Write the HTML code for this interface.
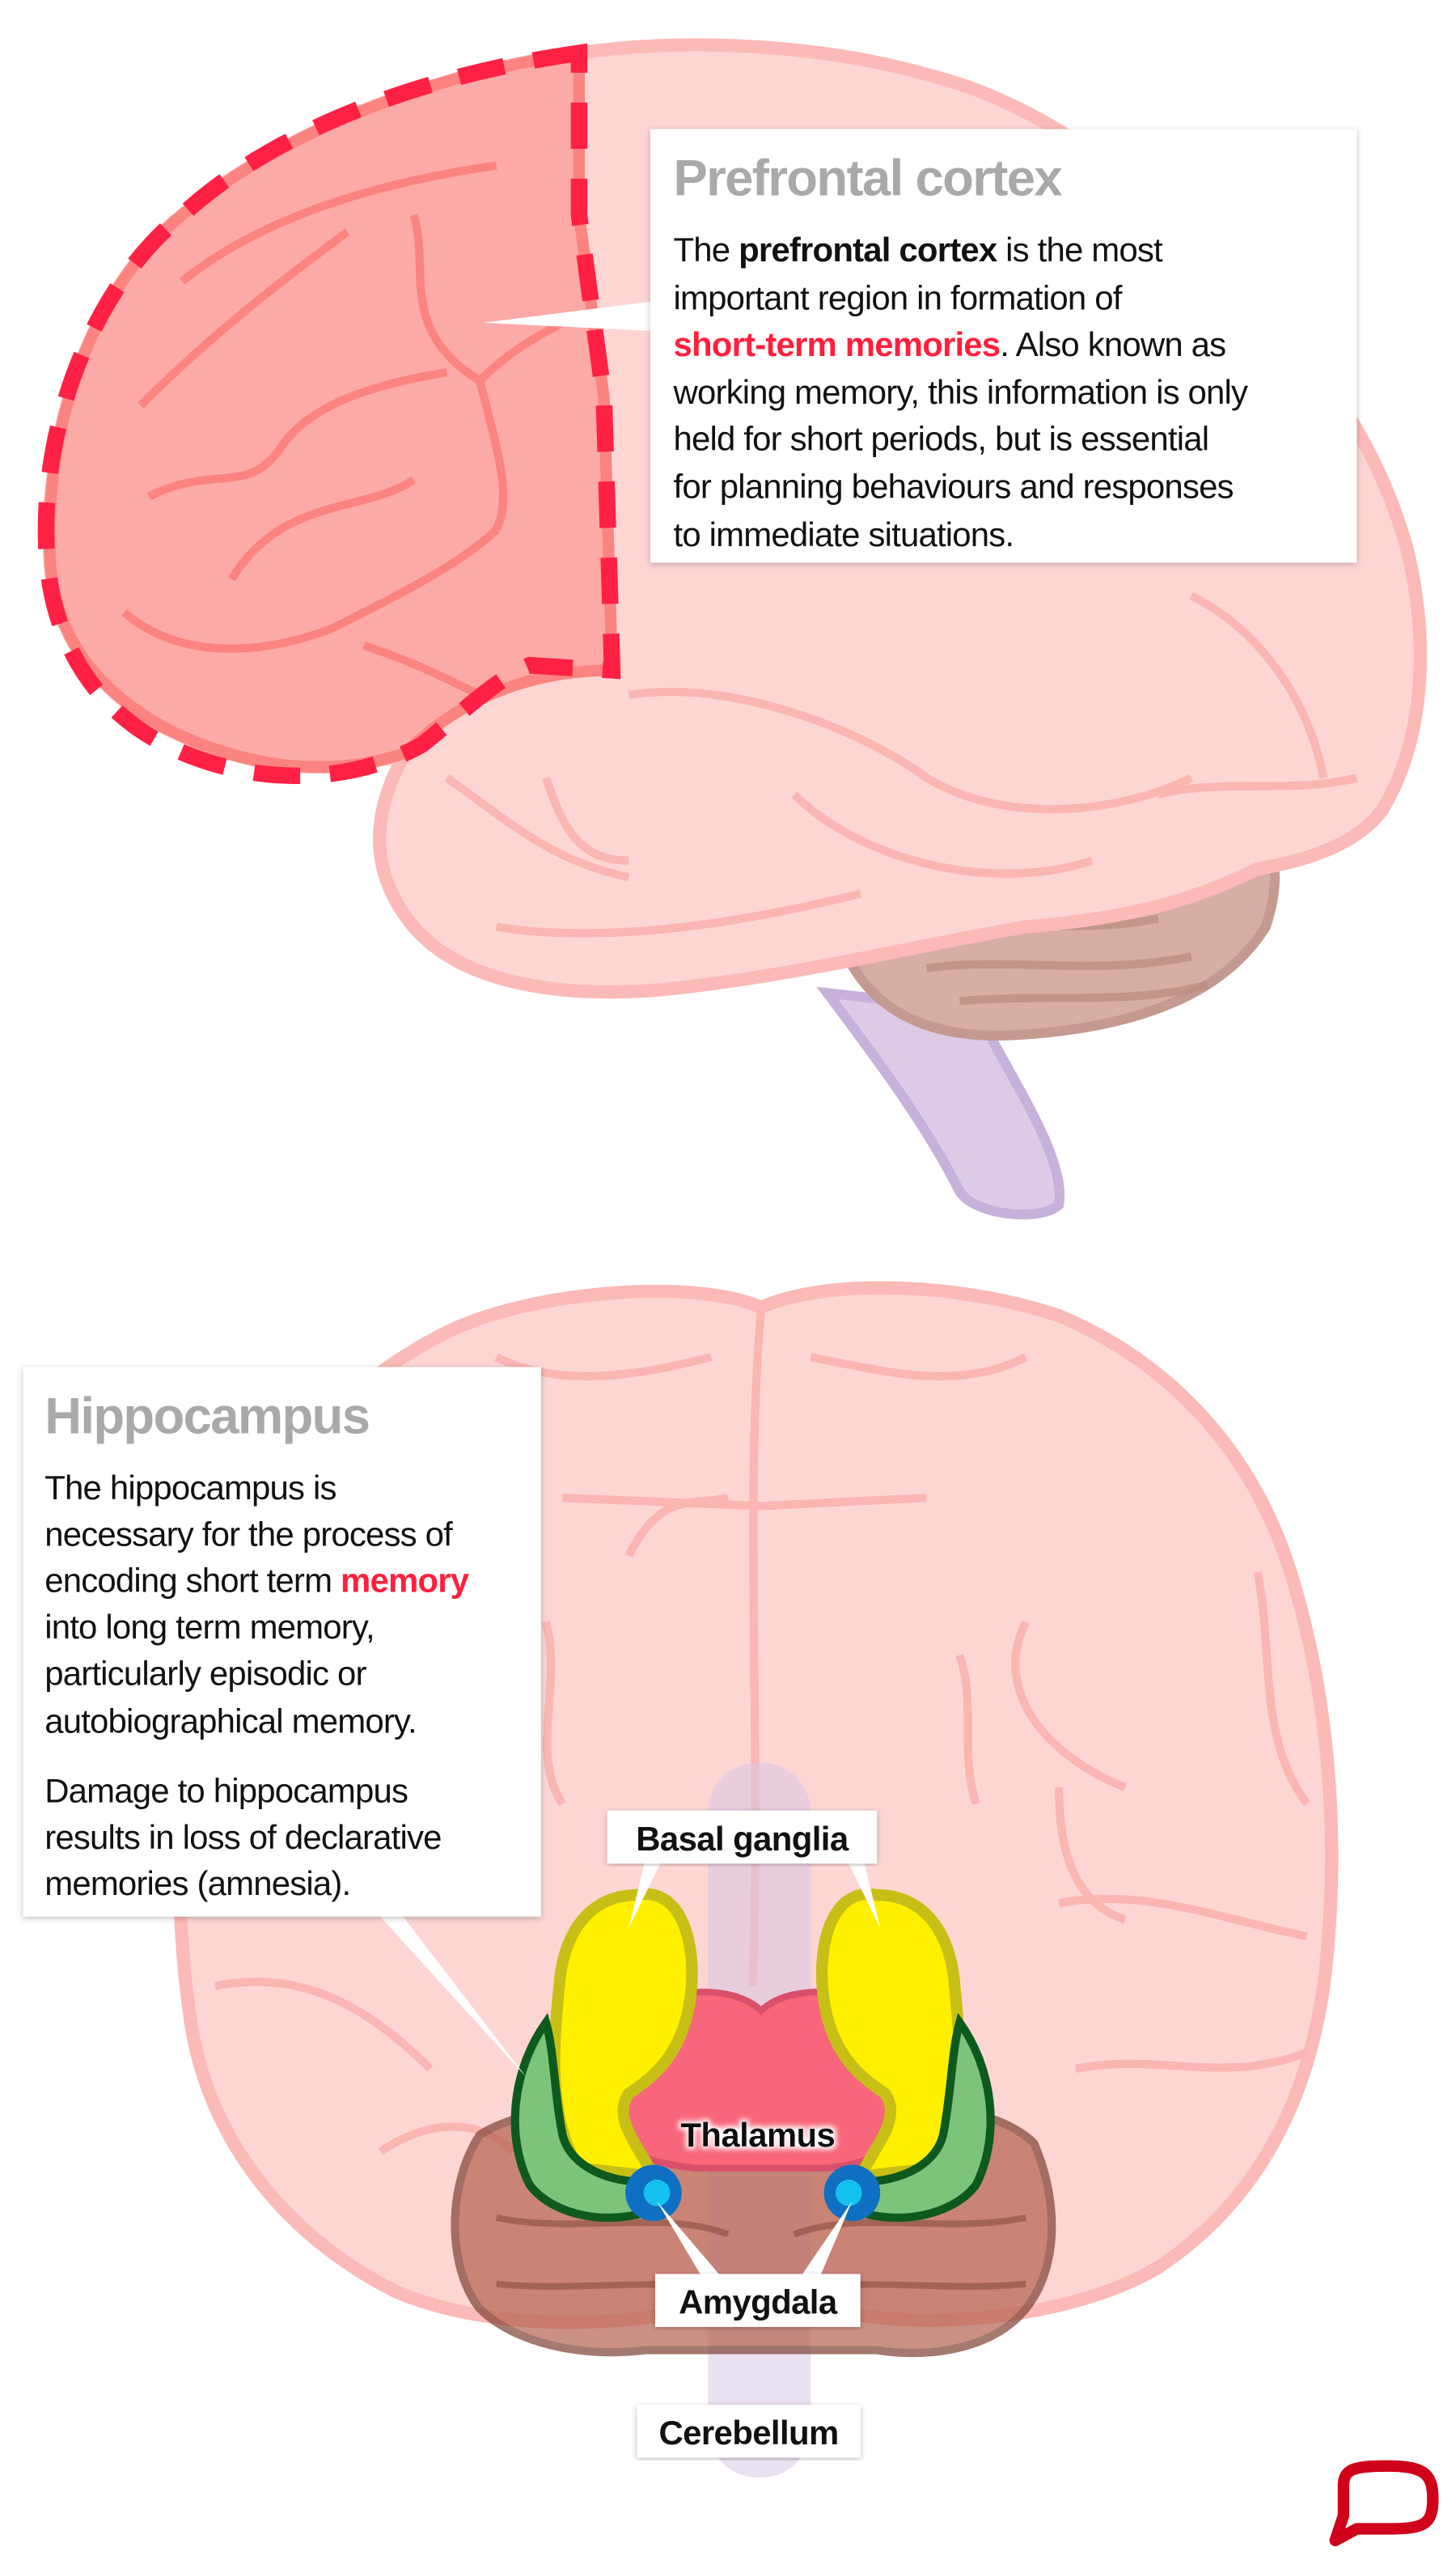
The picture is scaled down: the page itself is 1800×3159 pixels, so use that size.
<!DOCTYPE html>
<html><head><meta charset="utf-8"><style>
html,body{margin:0;padding:0;background:#fff}
svg{display:block}
text{font-family:"Liberation Sans",Arial,sans-serif}
</style></head><body>
<svg width="1800" height="3159" viewBox="0 0 880 1544.4" preserveAspectRatio="none" xmlns="http://www.w3.org/2000/svg">
<defs>
<filter id="sh" x="-5%" y="-5%" width="110%" height="110%"><feDropShadow dx="0" dy="1" stdDeviation="2" flood-color="#000" flood-opacity="0.25"/></filter>
<filter id="glow"><feMorphology operator="dilate" radius="1.5" in="SourceAlpha" result="d"/><feGaussianBlur in="d" stdDeviation="1.5" result="b"/><feFlood flood-color="#fff"/><feComposite in2="b" operator="in"/><feMerge><feMergeNode/><feMergeNode in="SourceGraphic"/></feMerge></filter>
</defs>

<!-- ===== TOP BRAIN (lateral) ===== -->
<path d="M500,600 C530,640 560,680 580,720 C590,735 630,738 640,728 C645,700 610,650 590,610 Z" fill="#dccbe6" stroke="#c7b1db" stroke-width="6"/>
<path d="M505,560 C520,610 560,630 620,625 C690,620 740,600 765,560 C775,530 770,510 760,500 L520,520 Z" fill="#d7aea4" stroke="#c49a90" stroke-width="6"/>
<g stroke="#b98b80" stroke-width="5" fill="none" opacity="0.7">
<path d="M560,560 C600,555 650,565 700,555"/><path d="M560,585 C610,578 660,590 720,578"/><path d="M580,605 C630,600 680,608 730,595"/></g>
<path d="M30,330 C28,250 60,170 110,130 C170,80 260,45 350,32 C420,22 500,28 560,45 C630,62 690,110 740,160 C790,210 830,260 850,330 C865,390 860,450 835,490 C820,510 790,520 760,525 C720,545 680,555 620,560 C560,570 480,590 400,598 C340,603 280,595 250,560 C225,530 222,495 245,455 C200,470 150,465 100,440 C55,415 30,380 30,330 Z" fill="#fdd6d4" stroke="#fbbab7" stroke-width="8"/>
<g stroke="#fbb5b2" stroke-width="5" fill="none">
<path d="M380,420 C440,410 520,440 560,470 C610,500 680,490 720,470"/>
<path d="M270,470 C300,490 330,520 380,530"/>
<path d="M420,80 C470,100 520,130 560,180"/>
<path d="M600,120 C650,150 690,200 700,260"/>
<path d="M480,480 C520,520 600,540 660,520"/>
<path d="M720,360 C760,380 790,420 800,470"/>
<path d="M700,480 C740,470 780,480 820,470"/>
<path d="M330,470 C340,500 350,520 380,520"/>
<path d="M300,560 C360,570 440,560 520,540"/>
</g>
<path d="M350,32 C260,45 170,80 110,130 C60,170 28,250 30,330 C30,380 55,415 100,440 C150,465 200,470 245,455 C270,430 310,405 370,405 L365,240 L350,130 Z" fill="#fcaaa7" stroke="#fb8480" stroke-width="7"/>
<g stroke="#fb8480" stroke-width="5" fill="none">
<path d="M110,170 C160,130 230,110 300,100"/>
<path d="M85,245 C130,200 170,170 210,140"/>
<path d="M90,300 C130,280 150,300 170,270 C190,240 240,230 270,225"/>
<path d="M140,350 C170,300 220,310 250,290"/>
<path d="M75,370 C110,400 160,395 200,380 C240,360 280,340 300,320"/>
<path d="M290,230 C300,270 310,300 300,320"/>
<path d="M290,230 C310,210 330,200 350,190"/>
<path d="M250,130 C260,160 240,200 290,230"/>
<path d="M220,390 C250,400 270,410 290,420"/>
</g>
<path d="M350,32 C260,45 170,75 110,130 C60,170 25,250 28,330 C30,390 60,430 100,450 C150,475 210,475 255,450 C280,430 300,410 320,402 L370,405 L365,240 L350,130 Z" fill="none" stroke="#ff2144" stroke-width="10" stroke-dasharray="28,18"/>
<polygon points="395,182 395,200 292,195" fill="#fff"/>
<rect x="393" y="78" width="427" height="262" fill="#fff" filter="url(#sh)"/>
<text x="407" y="118" font-size="31" font-weight="bold" fill="#a9a9a9" letter-spacing="-0.8">Prefrontal cortex</text>
<g font-size="20.5" fill="#111" letter-spacing="-0.4">
<text x="407" y="158">The <tspan font-weight="bold">prefrontal cortex</tspan> is the most</text>
<text x="407" y="187">important region in formation of</text>
<text x="407" y="215"><tspan font-weight="bold" fill="#ff1f3d">short-term memories</tspan>. Also known as</text>
<text x="407" y="244">working memory, this information is only</text>
<text x="407" y="272">held for short periods, but is essential</text>
<text x="407" y="301">for planning behaviours and responses</text>
<text x="407" y="330">to immediate situations.</text>
</g>

<!-- ===== BOTTOM BRAIN (frontal) ===== -->
<path d="M460,790 C420,772 320,780 270,805 C200,840 150,900 125,980 C105,1060 105,1150 115,1220 C125,1290 170,1350 240,1385 C300,1410 380,1405 420,1395 L500,1395 C560,1410 650,1400 700,1370 C760,1330 790,1270 800,1200 C810,1120 805,1030 780,950 C755,870 700,820 640,795 C580,775 500,772 460,790 Z" fill="#fdd6d4" stroke="#fbbab7" stroke-width="8"/>
<g stroke="#fbb5b2" stroke-width="5" fill="none">
<path d="M460,792 C450,900 460,1050 455,1200"/>
<path d="M340,905 L460,910 L560,905"/>
<path d="M380,940 C400,900 420,910 440,905"/>
<path d="M300,820 C340,840 390,830 430,820"/>
<path d="M490,820 C540,830 580,840 620,820"/>
<path d="M620,980 C600,1020 630,1060 680,1080"/>
<path d="M760,950 C770,1000 760,1050 790,1090"/>
<path d="M140,1020 C170,1010 200,1040 210,1070"/>
<path d="M120,1120 C170,1110 210,1140 260,1150"/>
<path d="M130,1200 C180,1190 220,1210 260,1250"/>
<path d="M640,1150 C690,1140 740,1160 790,1170"/>
<path d="M650,1250 C700,1240 740,1260 790,1240"/>
<path d="M640,1080 C640,1120 650,1150 680,1160"/>
<path d="M230,1300 C260,1280 290,1280 310,1300"/>
<path d="M330,980 C340,1020 320,1060 340,1090"/>
<path d="M580,1000 C590,1030 580,1060 590,1090"/>
</g>
<rect x="428" y="1065" width="62" height="432" rx="30" fill="#d7c7e4" opacity="0.55"/>
<path d="M290,1290 C320,1270 400,1265 460,1270 C530,1265 600,1270 625,1295 C640,1330 640,1370 620,1395 C600,1420 560,1425 530,1420 L390,1420 C350,1425 310,1415 290,1395 C270,1370 270,1320 290,1290 Z" fill="#b4624f" opacity="0.7" stroke="#7e4134" stroke-width="5"/>
<g stroke="#7e4134" stroke-width="4" fill="none" opacity="0.5">
<path d="M300,1340 C350,1350 400,1335 440,1350"/><path d="M480,1350 C520,1335 570,1350 620,1340"/>
<path d="M300,1380 C350,1385 400,1375 440,1385"/><path d="M480,1385 C520,1375 570,1385 620,1380"/></g>
<path d="M345,1240 C380,1200 440,1195 460,1215 C480,1195 540,1200 570,1240 C575,1280 545,1305 500,1310 L420,1310 C370,1305 340,1280 345,1240 Z" fill="#f7667a" stroke="#d8506a" stroke-width="4"/>
<path d="M385,1145 C410,1140 420,1170 418,1200 C415,1240 395,1255 380,1265 C370,1280 385,1295 395,1315 L350,1310 C330,1280 335,1230 338,1200 C340,1170 355,1145 385,1145 Z" fill="#fff000" stroke="#c8bf16" stroke-width="7"/>
<path d="M530,1145 C505,1140 495,1170 497,1200 C500,1240 520,1255 535,1265 C545,1280 530,1295 520,1315 L565,1310 C585,1280 580,1230 577,1200 C575,1170 560,1145 530,1145 Z" fill="#fff000" stroke="#c8bf16" stroke-width="7"/>
<path d="M330,1222 C310,1250 305,1290 320,1320 C335,1340 370,1345 395,1335 L395,1318 C370,1320 345,1310 340,1290 C335,1265 335,1240 330,1222 Z" fill="#7cc47a" stroke="#0e5a1e" stroke-width="5"/>
<path d="M580,1222 C600,1250 605,1290 590,1320 C575,1340 540,1345 515,1335 L515,1318 C540,1320 565,1310 570,1290 C575,1265 575,1240 580,1222 Z" fill="#7cc47a" stroke="#0e5a1e" stroke-width="5"/>
<circle cx="395" cy="1325" r="17" fill="#0f6fc2"/><circle cx="397" cy="1325" r="8" fill="#14c2ef"/>
<circle cx="515" cy="1325" r="17" fill="#0f6fc2"/><circle cx="513" cy="1325" r="8" fill="#14c2ef"/>
<g fill="#fff">
<polygon points="390,1124 400,1124 380,1165"/>
<polygon points="512,1124 522,1124 532,1165"/>
<polygon points="425,1377 437,1377 397,1330"/>
<polygon points="483,1377 495,1377 515,1330"/>
<polygon points="228,1156 242,1156 318,1255"/>
</g>
<rect x="367" y="1094" width="163" height="32" fill="#fff" filter="url(#sh)"/>
<text x="448.5" y="1118" font-size="20.5" font-weight="bold" text-anchor="middle" fill="#111" letter-spacing="-0.3">Basal ganglia</text>
<text x="458" y="1297" font-size="20.5" font-weight="bold" text-anchor="middle" fill="#111" letter-spacing="-0.3" filter="url(#glow)">Thalamus</text>
<rect x="396" y="1374" width="124" height="32" fill="#fff" filter="url(#sh)"/>
<text x="458" y="1398" font-size="20.5" font-weight="bold" text-anchor="middle" fill="#111" letter-spacing="-0.3">Amygdala</text>
<rect x="385" y="1453" width="135" height="32" fill="#fff" filter="url(#sh)"/>
<text x="452.5" y="1477" font-size="20.5" font-weight="bold" text-anchor="middle" fill="#111" letter-spacing="-0.3">Cerebellum</text>

<rect x="14" y="826" width="313" height="332" fill="#fff" filter="url(#sh)"/>
<text x="27" y="866" font-size="31" font-weight="bold" fill="#a9a9a9" letter-spacing="-0.8">Hippocampus</text>
<g font-size="20.5" fill="#111" letter-spacing="-0.4">
<text x="27" y="906">The hippocampus is</text>
<text x="27" y="934">necessary for the process of</text>
<text x="27" y="962">encoding short term <tspan font-weight="bold" fill="#ff1f3d">memory</tspan></text>
<text x="27" y="990">into long term memory,</text>
<text x="27" y="1018">particularly episodic or</text>
<text x="27" y="1047">autobiographical memory.</text>
<text x="27" y="1089">Damage to hippocampus</text>
<text x="27" y="1117">results in loss of declarative</text>
<text x="27" y="1145">memories (amnesia).</text>
</g>

<!-- logo -->
<path d="M812,1502 C812,1492 818,1490 838,1490 C860,1490 866,1494 866,1510 C866,1526 860,1528 838,1528 L820,1528 L807,1535 L812,1520 Z" fill="none" stroke="#d0021b" stroke-width="7" stroke-linejoin="round"/>
</svg>
</body></html>
